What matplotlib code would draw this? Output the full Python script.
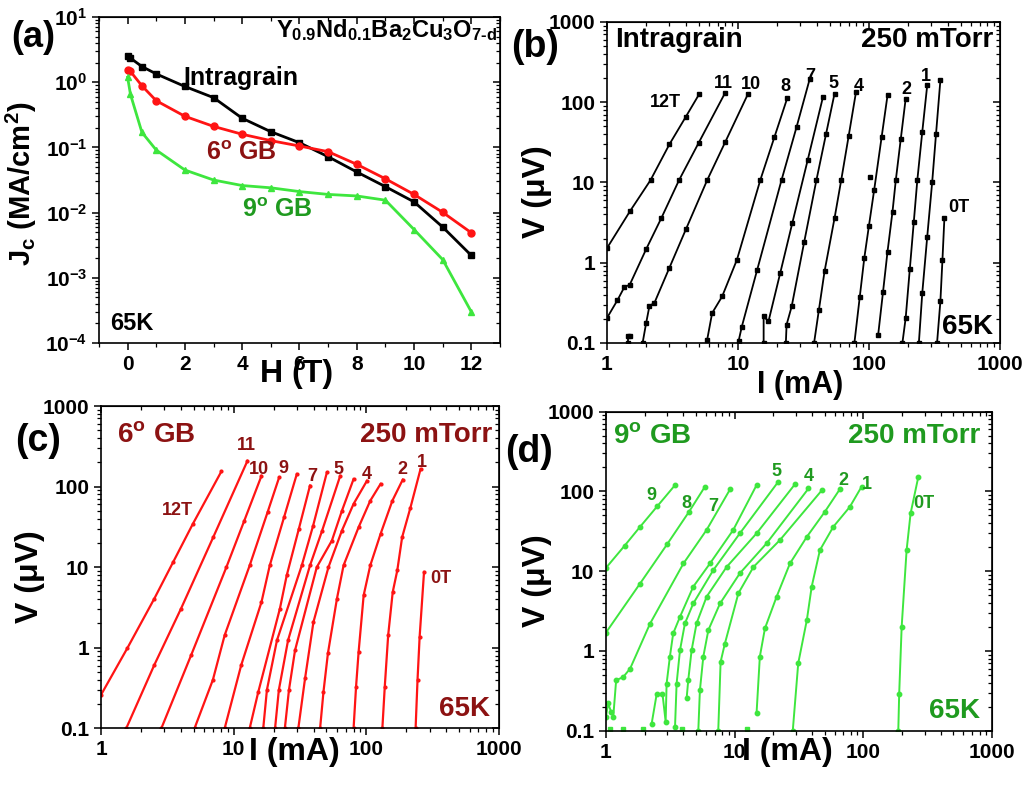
import matplotlib
matplotlib.use('Agg')
import matplotlib.pyplot as plt
from matplotlib.ticker import MultipleLocator, FixedLocator, FixedFormatter, LogLocator, NullFormatter

# ---- (a) Jc vs field ----
H_FIELD = [0, 0.1, 0.5, 1, 2, 3, 4, 5, 6, 7, 8, 9, 10, 11, 12]
JC_INTRA = [2.48, 2.34, 1.74, 1.34, 0.86, 0.58, 0.28, 0.174, 0.118, 0.072, 0.042, 0.025, 0.0146, 0.006, 0.0022]
JC_6DEG = [1.55, 1.46, 0.88, 0.52, 0.30, 0.21, 0.159, 0.127, 0.105, 0.086, 0.055, 0.033, 0.019, 0.0101, 0.0049]
JC_9DEG = [1.19, 0.65, 0.17, 0.091, 0.045, 0.0316, 0.026, 0.024, 0.021, 0.019, 0.018, 0.0155, 0.0055, 0.0019, 0.0003]

# ---- (b) intragrain I-V curves (12T ... 0T) ----
B_I = [
    [1.0, 1.5, 2.15, 3.0, 4.0, 5.04],
    [1.0, 1.2, 1.36, 1.49, 2.0, 2.6, 3.55, 5.0, 8.0],
    [1.87, 1.99, 2.11, 2.3, 3.0, 4.0, 5.82, 8.0, 11.9],
    [1.44, 1.44, 1.49],
    [5.82, 6.35, 7.57, 9.82, 14.8, 19, 23.8],
    [10.1, 10.7, 14, 21.5, 28, 35.3],
    [15.7, 15.7, 17.1, 21, 26, 34, 44.6],
    [23.2, 23.5, 25.7, 32, 39.7, 47, 54.6],
    [38.1, 41.5, 45.8, 54.6, 61.4, 70, 79.7],
    [77.4, 85, 92.1, 100, 109.6, 125, 138.6],
    [117.6, 128, 138.6, 151.3, 160.3, 175, 190.7],
    [180, 190.7, 205, 220, 234, 255, 278.5],
    [240.4, 255.3, 278.6, 304, 325, 351],
    [331, 351, 364, 376.6],
    [101.8],
]
B_V = [
    [1.52, 4.4, 10.7, 30, 66, 125],
    [0.205, 0.34, 0.5, 0.53, 1.5, 3.6, 10.7, 31, 132],
    [0.1, 0.177, 0.29, 0.315, 0.87, 2.6, 10.7, 32, 126],
    [0.1, 0.121, 0.121],
    [0.11, 0.236, 0.38, 1.09, 10.7, 37, 113],
    [0.105, 0.16, 0.81, 10.7, 49, 195],
    [0.1, 0.214, 0.186, 0.74, 3.13, 18.8, 117],
    [0.1, 0.169, 0.285, 1.8, 10.7, 40, 128],
    [0.1, 0.26, 0.78, 3.59, 10.7, 38, 135],
    [0.1, 0.37, 1.14, 2.9, 8.07, 37, 122],
    [0.127, 0.43, 1.38, 4.34, 10.7, 35, 111],
    [0.1, 0.205, 0.83, 3.25, 10.7, 42, 163],
    [0.1, 0.42, 2.12, 10.2, 40, 188],
    [0.1, 0.33, 1.09, 3.59],
    [11.6],
]
B_LABELS = ['12T', '11', '10', '8', '7', '5', '4', '2', '1', '0T']

# ---- (c) 6 deg GB I-V curves ----
C_I = [
    [1.0, 1.58, 2.52, 3.5, 4.92, 8.07],
    [1.55, 2.52, 4.01, 7.0, 12.7],
    [2.85, 4.78, 8.81, 12, 16.2],
    [5.07, 6.97, 8.55, 13.2, 18, 22.0],
    [8.55, 11.4, 16.2, 18.7, 24, 29.9],
    [13.2, 15.3, 22.3, 25.1, 31, 37.6],
    [16.7, 17.8, 21.2, 32.6, 39.7, 50.4],
    [20.5, 21.9, 25.7, 37.6, 46.4, 63.5],
    [24.3, 26.1, 29, 42.3, 55, 65.4, 80.1],
    [30.7, 34.5, 39.9, 51.8, 65.4, 80.1, 101],
    [44.8, 47.5, 51.3, 60, 67.3, 87.4, 107, 128],
    [80.1, 83.6, 87.4, 95.4, 107, 128, 157, 188],
    [132, 137.6, 146, 158, 171, 186, 215, 256],
    [235, 243, 252, 272],
]
C_V = [
    [0.26, 0.99, 4.06, 11.6, 34.4, 154],
    [0.1, 0.61, 3.06, 23.4, 209],
    [0.1, 0.81, 10, 37.5, 136],
    [0.1, 0.4, 1.43, 10.5, 48, 130],
    [0.1, 0.61, 3.69, 10.5, 42, 143],
    [0.1, 0.28, 3.06, 7.9, 30, 103],
    [0.1, 0.3, 1.24, 10.5, 32.8, 150],
    [0.1, 0.3, 1.24, 10.5, 28.4, 136],
    [0.1, 0.3, 0.93, 10, 21.4, 50, 124],
    [0.1, 0.416, 2.08, 10, 28.4, 61, 118],
    [0.1, 0.284, 0.85, 4.06, 10.5, 31.3, 66.8, 108],
    [0.1, 0.327, 0.887, 4.47, 10.5, 25.9, 66.8, 122],
    [0.1, 0.327, 1.43, 4.91, 9.1, 23.5, 55, 165],
    [0.1, 0.4, 1.36, 8.7],
]
C_LABELS = ['12T', '11', '10', '9', '7', '5', '4', '2', '1', '0T']

# ---- (d) 9 deg GB I-V curves ----
D_I = [
    [1.0, 1.4, 1.84, 2.5, 3.44],
    [1.0, 1.84, 3.0, 4.4, 5.88],
    [1.0, 1.04, 1.1, 1.14, 1.2, 1.36, 1.54, 2.2, 4.0, 6.06, 9.2],
    [2.26, 2.48, 2.75, 2.91, 2.96, 3.14, 3.33, 3.76, 4.77, 6.43, 9.76, 14.8],
    [3.44, 3.54, 3.76, 4.11, 4.77, 6.82, 10.97, 21.8],
    [4.24, 4.36, 4.63, 5.06, 6.06, 8.66, 14.8, 29.4],
    [5.22, 5.37, 5.71, 6.25, 7.7, 10.97, 17.7, 37.5],
    [7.46, 7.78, 8.4, 10.7, 14, 22.5, 47.5],
    [14.8, 15.7, 17.2, 21.2, 26.9, 36.4, 50, 66],
    [28.3, 31.2, 36.4, 39.7, 46, 58.4, 78.5, 97],
    [187, 190, 198.6, 217, 233, 267],
]
D_V = [
    [11, 21, 36, 65, 120],
    [1.7, 7, 22, 55, 115],
    [0.15, 0.22, 0.17, 0.15, 0.43, 0.47, 0.6, 2.2, 12.5, 33, 106],
    [0.12, 0.29, 0.29, 0.13, 0.39, 0.85, 1.66, 2.68, 6.4, 12.5, 33, 120],
    [0.11, 0.39, 1.02, 2.22, 3.94, 10.3, 29.8, 132],
    [0.26, 0.43, 1.02, 2.22, 4.8, 11.3, 29.8, 123],
    [0.1, 0.32, 0.85, 1.83, 3.94, 9.4, 22.3, 109],
    [0.1, 0.73, 1.24, 5.3, 11.3, 24.6, 103],
    [0.165, 0.85, 1.92, 4.8, 12.5, 27, 55, 108],
    [0.1, 0.7, 2.44, 6.4, 18.4, 36, 64, 115],
    [0.1, 0.29, 2.0, 18.4, 53, 150],
]
D_FLOOR_I = [1.07, 1.36, 1.95, 3.87, 12.4]
D_FLOOR_V = [0.105, 0.105, 0.105, 0.105, 0.105]
D_LABELS = ['9', '8', '7', '5', '4', '2', '1', '0T']

IV_TICKS_X = [1, 10, 100, 1000]
IV_TICKS_Y = [0.1, 1, 10, 100, 1000]

RED = '#ff1414'
DARK_RED = '#8c1212'
GREEN = '#3ee63e'
DARK_GREEN = '#1f9a1f'

plt.rcParams['font.family'] = ['Liberation Sans', 'DejaVu Sans']
plt.rcParams['font.weight'] = 'bold'
plt.rcParams['axes.labelweight'] = 'bold'
plt.rcParams['mathtext.fontset'] = 'custom'
plt.rcParams['mathtext.rm'] = 'Liberation Sans:bold'
plt.rcParams['mathtext.bf'] = 'Liberation Sans:bold'
plt.rcParams['mathtext.it'] = 'Liberation Sans:bold'
plt.rcParams['mathtext.sf'] = 'Liberation Sans:bold'
plt.rcParams['mathtext.default'] = 'rm'


def style_axes(ax, minor_x=None):
    for s in ax.spines.values():
        s.set_linewidth(1.2)
    ax.tick_params(which='major', direction='out', length=5, width=1.1, labelsize=15)
    ax.tick_params(which='minor', direction='out', length=3, width=0.9)
    # mirrored ticks on top / right point inwards
    top = ax.secondary_xaxis('top')
    right = ax.secondary_yaxis('right')
    if minor_x is not None:
        top.xaxis.set_major_locator(MultipleLocator(2))
        top.xaxis.set_minor_locator(MultipleLocator(minor_x))
    top.tick_params(which='major', direction='in', length=5, width=1.1, labeltop=False)
    top.tick_params(which='minor', direction='in', length=3, width=0.9)
    right.tick_params(which='major', direction='in', length=5, width=1.1, labelright=False)
    right.tick_params(which='minor', direction='in', length=3, width=0.9)
    top.xaxis.set_minor_formatter(NullFormatter())
    right.yaxis.set_minor_formatter(NullFormatter())


def setup_iv_axes(ax, ylab_x):
    ax.set_xscale('log')
    ax.set_yscale('log')
    ax.set_xlim(1, 1000)
    ax.set_ylim(0.1, 1000)
    ax.xaxis.set_major_locator(FixedLocator(IV_TICKS_X))
    ax.xaxis.set_major_formatter(FixedFormatter([f'{t:g}' for t in IV_TICKS_X]))
    ax.yaxis.set_major_locator(FixedLocator(IV_TICKS_Y))
    ax.yaxis.set_major_formatter(FixedFormatter([f'{t:g}' for t in IV_TICKS_Y]))
    ax.xaxis.set_minor_locator(LogLocator(base=10, subs=range(2, 10), numticks=20))
    ax.yaxis.set_minor_locator(LogLocator(base=10, subs=range(2, 10), numticks=20))
    ax.xaxis.set_minor_formatter(NullFormatter())
    ax.yaxis.set_minor_formatter(NullFormatter())
    ax.set_ylabel('V (μV)', fontsize=23)
    ax.yaxis.set_label_coords(ylab_x, 0.47)
    style_axes(ax)


def plot_panel_a(ax):
    ax.plot(H_FIELD, JC_INTRA, 'k-s', lw=2, ms=5)
    ax.plot(H_FIELD, JC_6DEG, '-o', color=RED, lw=2, ms=5)
    ax.plot(H_FIELD, JC_9DEG, '-^', color=GREEN, lw=2, ms=5)
    ax.set_yscale('log')
    ax.set_xlim(-1, 13)
    ax.set_ylim(1e-4, 10)
    ax.xaxis.set_major_locator(MultipleLocator(2))
    ax.xaxis.set_minor_locator(MultipleLocator(1))
    ax.yaxis.set_minor_locator(LogLocator(base=10, subs=range(2, 10), numticks=20))
    ax.yaxis.set_minor_formatter(NullFormatter())
    ax.set_xlabel('H (T)', fontsize=23)
    ax.xaxis.set_label_coords(0.494, -0.095)
    ax.xaxis.label.set_verticalalignment('center')
    ax.set_ylabel('J$_\\mathregular{c}$ (MA/cm$^\\mathregular{2}$)', fontsize=21)
    ax.yaxis.set_label_coords(-0.15, 0.49)
    style_axes(ax, minor_x=1)
    t = ax.transAxes
    ax.text(0.993, 0.96, 'Y$_{0.9}$Nd$_{0.1}$Ba$_2$Cu$_3$O$_{7‐d}$', transform=t, fontsize=17,
            ha='right', va='center')
    ax.text(0.354, 0.813, 'Intragrain', transform=t, fontsize=18, ha='center', va='center')
    ax.text(0.354, 0.583, '6$^{o}$ GB', transform=t, fontsize=18, ha='center', va='center', color=DARK_RED)
    ax.text(0.446, 0.408, '9$^{o}$ GB', transform=t, fontsize=18, ha='center', va='center', color=DARK_GREEN)
    ax.text(0.027, 0.061, '65K', transform=t, fontsize=17, ha='left', va='center')


def plot_curves(ax, cur_i, cur_v, color, marker, ms, lw):
    for xs, ys in zip(cur_i, cur_v):
        ax.plot(xs, ys, '-', color=color, marker=marker, ms=ms, lw=lw)


def add_curve_labels(ax, labels, positions, color):
    for lab, (x, y) in zip(labels, positions):
        ax.text(x, y, lab, fontsize=13, ha='center', va='center', color=color)


def plot_panel_b(ax):
    plot_curves(ax, B_I, B_V, 'black', 's', 2.2, 1.3)
    setup_iv_axes(ax, -0.14)
    ax.set_xlabel('I (mA)', fontsize=22)
    ax.xaxis.set_label_coords(0.491, -0.131)
    ax.xaxis.label.set_verticalalignment('center')
    pos = [(2.81, 98), (7.79, 171), (12.6, 166), (23.2, 156), (35.7, 211), (54, 171),
           (83.6, 156), (194, 146), (270, 211), (483, 4.9)]
    add_curve_labels(ax, B_LABELS, pos, 'black')
    t = ax.transAxes
    ax.text(0.02, 0.944, 'Intragrain', transform=t, fontsize=20, ha='left', va='center')
    ax.text(0.982, 0.944, '250 mTorr', transform=t, fontsize=20, ha='right', va='center')
    ax.text(0.982, 0.05, '65K', transform=t, fontsize=20, ha='right', va='center')


def plot_panel_c(ax):
    plot_curves(ax, C_I, C_V, RED, 'o', 2.0, 1.6)
    setup_iv_axes(ax, -0.141)
    ax.set_xlabel('I (mA)', fontsize=23)
    ax.xaxis.set_label_coords(0.487, -0.075)
    ax.xaxis.label.set_verticalalignment('center')
    pos = [(3.78, 50), (12.5, 321), (15.5, 165), (23.6, 170), (38.8, 132), (61.7, 165),
           (101, 143), (186, 165), (264, 200), (364, 7.2)]
    add_curve_labels(ax, C_LABELS, pos, DARK_RED)
    t = ax.transAxes
    ax.text(0.04, 0.91, '6$^{o}$ GB', transform=t, fontsize=20, ha='left', va='center', color=DARK_RED)
    ax.text(0.982, 0.91, '250 mTorr', transform=t, fontsize=20, ha='right', va='center', color=DARK_RED)
    ax.text(0.977, 0.059, '65K', transform=t, fontsize=20, ha='right', va='center', color=DARK_RED)


def plot_panel_d(ax):
    plot_curves(ax, D_I, D_V, GREEN, 'o', 3.2, 1.4)
    ax.plot(D_FLOOR_I, D_FLOOR_V, 's', color=GREEN, ms=3)
    setup_iv_axes(ax, -0.14)
    ax.set_xlabel('I (mA)', fontsize=23)
    ax.xaxis.set_label_coords(0.469, -0.066)
    ax.xaxis.label.set_verticalalignment('center')
    pos = [(2.27, 90), (4.24, 71), (6.83, 64), (21, 177), (37.4, 156), (70, 139),
           (106, 121), (293, 71)]
    add_curve_labels(ax, D_LABELS, pos, DARK_GREEN)
    t = ax.transAxes
    ax.text(0.018, 0.925, '9$^{o}$ GB', transform=t, fontsize=20, ha='left', va='center', color=DARK_GREEN)
    ax.text(0.969, 0.925, '250 mTorr', transform=t, fontsize=20, ha='right', va='center', color=DARK_GREEN)
    ax.text(0.969, 0.063, '65K', transform=t, fontsize=20, ha='right', va='center', color=DARK_GREEN)


def main():
    fig = plt.figure(figsize=(10.33, 7.91), dpi=100)
    ax_a = fig.add_axes([0.0958, 0.5664, 0.3882, 0.4121])
    ax_b = fig.add_axes([0.5876, 0.5664, 0.3804, 0.4058])
    ax_c = fig.add_axes([0.0978, 0.0793, 0.3853, 0.4074])
    ax_d = fig.add_axes([0.5866, 0.0762, 0.3737, 0.4033])

    plot_panel_a(ax_a)
    plot_panel_b(ax_b)
    plot_panel_c(ax_c)
    plot_panel_d(ax_d)

    fig.text(0.032, 0.952, '(a)', fontsize=26, ha='center', va='center')
    fig.text(0.518, 0.941, '(b)', fontsize=27, ha='center', va='center')
    fig.text(0.037, 0.4425, '(c)', fontsize=27, ha='center', va='center')
    fig.text(0.512, 0.4286, '(d)', fontsize=27, ha='center', va='center')

    fig.savefig('out.png', dpi=100)


if __name__ == '__main__':
    main()
